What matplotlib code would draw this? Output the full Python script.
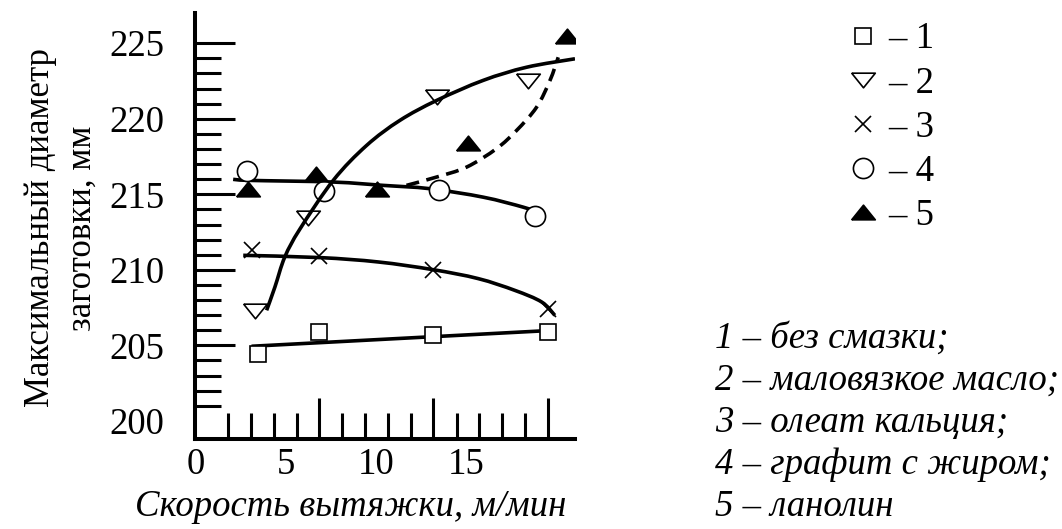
import matplotlib
matplotlib.use('Agg')
import matplotlib.pyplot as plt
from matplotlib.ticker import FixedLocator
from matplotlib.path import Path
from matplotlib.patches import PathPatch

plt.rcParams['font.family'] = ['Liberation Serif', 'DejaVu Serif']

# опытные точки
x1 = [3.46, 6.85, 13.18, 19.54]
y1 = [204.41, 205.89, 205.67, 205.89]
x2 = [3.28, 6.24, 13.41, 18.46]
y2 = [207.28, 213.45, 221.43, 222.51]
x3 = [3.09, 6.85, 13.18, 19.57]
y3 = [211.29, 210.89, 209.97, 207.43]
x4 = [2.85, 7.13, 13.5, 18.83]
y4 = [216.53, 215.21, 215.3, 213.54]
x5 = [2.87, 6.65, 10.04, 15.09, 20.59]
y5 = [215.37, 216.36, 215.37, 218.39, 225.51]

# кривые
c1x = [3.09, 19.94]
c1y = [204.94, 206.0]
c2x = [3.93, 4.39, 4.94, 5.78, 7.63, 9.48, 11.33, 13.37, 15.96, 18.37, 21.06]
c2y = [207.32, 208.86, 210.85, 212.7, 215.92, 218.23, 219.89, 221.21, 222.54, 223.41, 223.97]
c3x = [2.63, 6.89, 10.13, 13.18, 15.68, 17.72, 19.21, 19.94]
c3y = [210.96, 210.81, 210.52, 210.01, 209.42, 208.64, 207.87, 206.99]
c4x = [2.07, 3.0, 7.63, 10.41, 13.0, 15.96, 18.18, 18.93]
c4y = [215.99, 215.92, 215.81, 215.59, 215.37, 214.81, 214.15, 213.82]
c5x = [11.7, 13.37, 15.04, 16.7, 17.82, 18.93, 19.67, 20.13]
c5y = [215.59, 216.14, 216.8, 218.02, 219.23, 220.77, 222.53, 224.07]

xticklabels_pos = [0, 5, 10, 15]
xticks_long = [6.85, 13.2, 19.55]
xticks_short = [1.79, 3.06, 4.33, 5.59, 8.13, 9.39, 10.65, 11.94, 14.48, 15.74, 17.02, 18.28]
yticks_major = [200, 205, 210, 215, 220, 225]
yticks_minor = [v for v in range(201, 225) if v % 5 != 0]

legend_labels = ['– 1', '– 2', '– 3', '– 4', '– 5']
notes = ['1 – без смазки;', '2 – маловязкое масло;', '3 – олеат кальция;',
         '4 – графит с жиром;', '5 – ланолин']

tri_up = [(-1, -0.62), (1, -0.62), (0, 0.62), (-1, -0.62)]
tri_down = [(-1, 0.62), (1, 0.62), (0, -0.62), (-1, 0.62)]


def smooth(xs, ys):
    # гладкая кривая через снятые точки (Catmull-Rom -> Безье)
    pts = list(zip(xs, ys))
    verts = [pts[0]]
    codes = [Path.MOVETO]
    for i in range(len(pts) - 1):
        p0 = pts[max(i - 1, 0)]
        p1 = pts[i]
        p2 = pts[i + 1]
        p3 = pts[min(i + 2, len(pts) - 1)]
        a = (p1[0] + (p2[0] - p0[0]) / 6, p1[1] + (p2[1] - p0[1]) / 6)
        b = (p2[0] - (p3[0] - p1[0]) / 6, p2[1] - (p3[1] - p1[1]) / 6)
        verts += [a, b, p2]
        codes += [Path.CURVE4] * 3
    return Path(verts, codes)


fig = plt.figure(figsize=(10.62, 5.29), dpi=100)
ax = fig.add_axes([0.1836, 0.1701, 0.3578, 0.8053])

lw = 2.6
for cx, cy, ls, z in [(c1x, c1y, '-', 2), (c3x, c3y, '-', 2), (c4x, c4y, '-', 2),
                      (c5x, c5y, (0, (3.6, 2.1)), 2), (c2x, c2y, '-', 4)]:
    ax.add_patch(PathPatch(smooth(cx, cy), fill=False, edgecolor='black', lw=lw,
                           ls=ls, zorder=z, capstyle='butt'))

mew = 1.2
h1, = ax.plot(x1, y1, ls='none', marker='s', ms=11.5, mfc='white', mec='black', mew=mew, zorder=3)
h2, = ax.plot(x2, y2, ls='none', marker=tri_down, ms=17, mfc='white', mec='black', mew=mew, zorder=3)
h3, = ax.plot(x3, y3, ls='none', marker='x', ms=12, color='black', mew=mew, zorder=3)
h4, = ax.plot(x4, y4, ls='none', marker='o', ms=14.5, mfc='white', mec='black', mew=mew, zorder=3)
h5, = ax.plot(x5, y5, ls='none', marker=tri_up, ms=17, mfc='black', mec='black', mew=mew, zorder=3)

ax.set_xlim(-0.05, 21.06)
ax.set_ylim(198.8, 227.0)

for s in ['top', 'right']:
    ax.spines[s].set_visible(False)
for s in ['left', 'bottom']:
    ax.spines[s].set_linewidth(2.9)

# ось Y
ax.set_yticks(yticks_major)
ax.yaxis.set_minor_locator(FixedLocator(yticks_minor))
ax.tick_params(axis='y', which='major', direction='in', length=29, width=2.2, pad=22, labelsize=26.5)
ax.tick_params(axis='y', which='minor', direction='in', length=18.7, width=2.2)
ax.yaxis.get_major_ticks()[0].tick1line.set_visible(False)

# ось X: риски отдельно от подписей
ax.set_xticks(xticks_long)
ax.set_xticklabels([])
ax.xaxis.set_minor_locator(FixedLocator(xticks_short))
ax.tick_params(axis='x', which='major', direction='in', length=29.5, width=2.2)
ax.tick_params(axis='x', which='minor', direction='in', length=18.7, width=2.2)

sec = ax.secondary_xaxis('bottom')
sec.set_xticks(xticklabels_pos)
sec.tick_params(axis='x', length=0, pad=6, labelsize=26.5)
sec.spines['bottom'].set_visible(False)

fig.text(0.33, 0.043, 'Скорость вытяжки, м/мин', fontsize=26.5, style='italic',
         ha='center', va='center')
fig.text(0.058, 0.569, 'Максимальный диаметр\nзаготовки, мм', fontsize=25,
         rotation=90, ha='center', va='center', multialignment='center', linespacing=1.35)

fig.legend([h1, h2, h3, h4, h5], legend_labels, loc='upper left',
           bbox_to_anchor=(845.6 / 1062, 1 - 22 / 529), frameon=False, fontsize=26.5,
           handlelength=0.95, handletextpad=0.2, labelspacing=0.26, borderpad=0,
           borderaxespad=0, numpoints=1)

fig.text(715 / 1062, 1 - 321 / 529, '\n'.join(notes), fontsize=26.5, style='italic',
         ha='left', va='top', linespacing=1.29)

fig.savefig('out.png', dpi=100)
